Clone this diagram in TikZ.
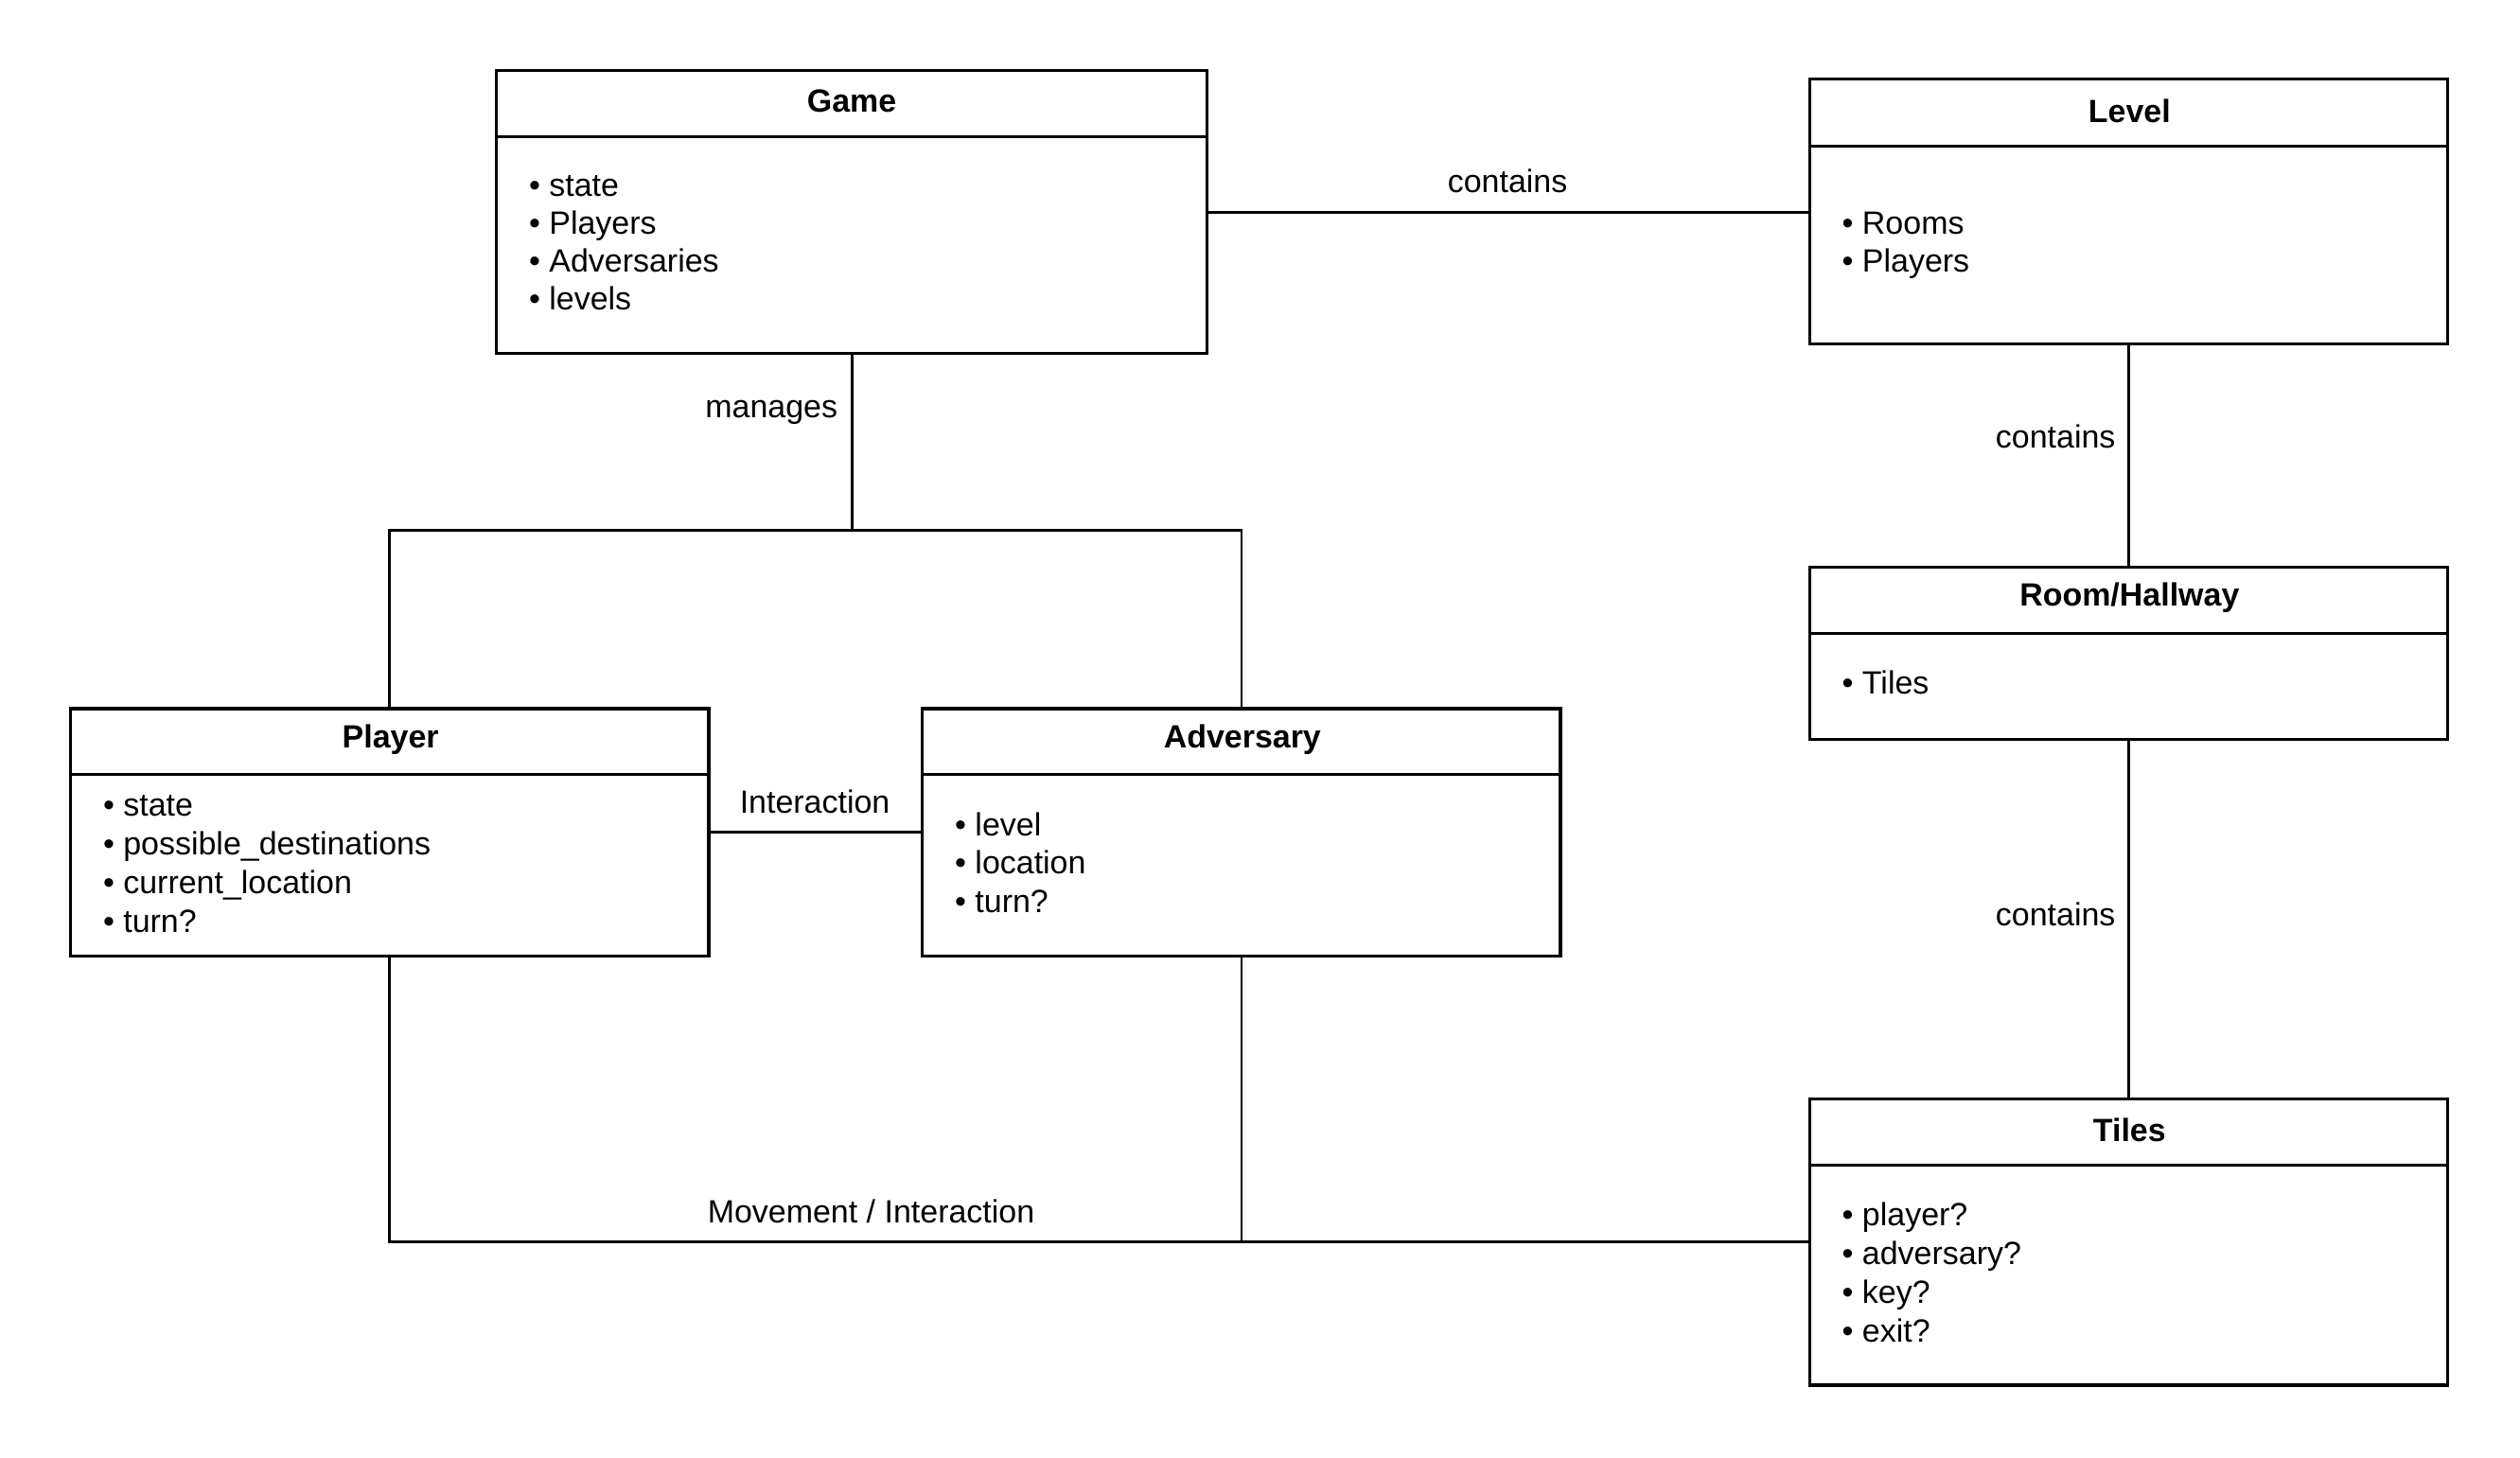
\documentclass[tikz,border=0pt]{standalone}
\usepackage{fontspec}
\setmainfont{Liberation Sans}
\usetikzlibrary{calc}
\begin{document}
\begin{tikzpicture}[x=1pt,y=-1pt,
  cls/.style={draw,line width=1.9pt,rectangle,inner sep=0pt,minimum width=397pt},
  divider/.style={line width=1.9pt},
  conn/.style={line width=1.7pt},
  title/.style={font=\fontsize{20}{24}\selectfont\bfseries,inner sep=0pt,yshift=-1pt},
  item/.style={font=\fontsize{20}{24}\selectfont,inner sep=0pt,anchor=west,text height=14pt,text depth=4pt,yshift=-2pt},
  lbl/.style={font=\fontsize{20}{24}\selectfont,inner sep=0pt,text height=14pt,text depth=4pt,yshift=-2pt}]
\useasboundingbox[fill=white] (0,0) rectangle (1568,907);

% ---------- classes ----------
\node[cls,minimum width=442pt,minimum height=176pt] (game) at (530,132) {};
\draw[divider] (game.west |- 0,85) -- (game.east |- 0,85);
\node[title] (gameT) at (530,62) {Game};
\foreach \t/\y [count=\i] in {state/115,Players/139,Adversaries/162,levels/186}
  \node[item] (gameI\i) at (329,\y) {• \t};

\node[cls,minimum height=165pt] (level) at (1324.5,131.5) {};
\draw[divider] (level.west |- 0,91) -- (level.east |- 0,91);
\node[title] (levelT) at (1325,68) {Level};
\foreach \t/\y [count=\i] in {Rooms/139,Players/162}
  \node[item] (levelI\i) at (1146,\y) {• \t};

\node[cls,minimum height=107pt] (room) at (1324.5,406.5) {};
\draw[divider] (room.west |- 0,394) -- (room.east |- 0,394);
\node[title] (roomT) at (1325,371) {Room/Hallway};
\node[item] (roomI1) at (1146,425) {• Tiles};

\node[cls,minimum height=178pt] (tiles) at (1324.5,773) {};
\draw[divider] (tiles.west |- 0,725) -- (tiles.east |- 0,725);
\node[title] (tilesT) at (1325,702) {Tiles};
\foreach \t/\y [count=\i] in {player?/756,adversary?/780,key?/804,exit?/828}
  \node[item] (tilesI\i) at (1146,\y) {• \t};

\node[cls,minimum height=154pt] (player) at (242.5,518) {};
\draw[divider] (player.west |- 0,482) -- (player.east |- 0,482);
\node[title] (playerT) at (243,459) {Player};
\foreach \t/\y [count=\i] in {state/501,possible\_destinations/525,current\_location/549,turn?/573}
  \node[item] (playerI\i) at (64,\y) {• \t};

\node[cls,minimum height=154pt] (adv) at (772.5,518) {};
\draw[divider] (adv.west |- 0,482) -- (adv.east |- 0,482);
\node[title] (advT) at (773,459) {Adversary};
\foreach \t/\y [count=\i] in {level/513,location/537,turn?/561}
  \node[item] (advI\i) at (594,\y) {• \t};

% ---------- connectors ----------
\draw[conn] (game.east) -- (game.east -| level.west);
\node[lbl] (lContains1) at (938,113) {contains};

\coordinate (split) at (530,330);
\draw[conn] (game.south) -- (split);
\draw[conn] (player.north) |- (split) -| (adv.north);
\node[lbl] (lManages) at (480,253) {manages};

\draw[conn] (level.south) -- (room.north);
\node[lbl] (lContains2) at (1279,272) {contains};

\draw[conn] (room.south) -- (tiles.north);
\node[lbl] (lContains3) at (1279,569) {contains};

\draw[conn] (player.east) -- (adv.west);
\node[lbl] (lInteraction) at (507,499) {Interaction};

\coordinate (join) at (adv.south |- tiles.west);
\draw[conn] (player.south) |- (tiles.west);
\draw[conn] (adv.south) -- (join);
\node[lbl] (lMove) at (542,754) {Movement / Interaction};
\end{tikzpicture}
\end{document}
